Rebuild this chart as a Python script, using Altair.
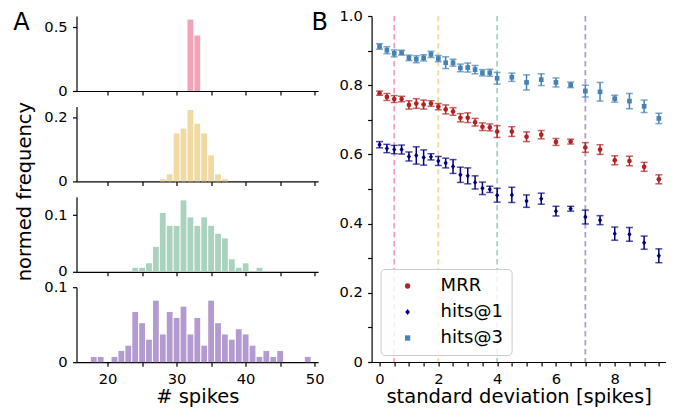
import altair as alt
import pandas as pd

FONT = "DejaVu Sans"

# ---------------- data: histograms (panel A) ----------------
pink_spikes = [32, 33]
pink_freq = [0.560, 0.435]

yellow_spikes = [28, 29, 30, 31, 32, 33, 34, 35, 36, 37]
yellow_freq = [0.007, 0.022, 0.149, 0.164, 0.222, 0.179, 0.149, 0.081, 0.022, 0.007]

green_spikes = [24, 25, 26, 27, 28, 29, 30, 31, 32, 33, 34, 35, 36, 37, 38, 39, 40, 42]
green_freq = [0.007, 0.007, 0.015, 0.044, 0.104, 0.081, 0.081, 0.126, 0.096, 0.081,
              0.096, 0.081, 0.067, 0.059, 0.022, 0.007, 0.015, 0.007]

purple_spikes = [18, 19, 21, 22, 23, 24, 25, 26, 27, 28, 29, 30, 31, 32, 33, 34, 35,
                 36, 37, 38, 39, 40, 41, 42, 43, 44, 45, 49]
purple_freq = [0.007, 0.007, 0.007, 0.015, 0.022, 0.067, 0.052, 0.030, 0.082, 0.037,
               0.067, 0.059, 0.074, 0.037, 0.059, 0.022, 0.082, 0.052, 0.037, 0.030,
               0.044, 0.037, 0.022, 0.007, 0.015, 0.007, 0.015, 0.007]

hist_colors = ["#f2a3b5", "#f0d9a2", "#a9d3bd", "#b49bcf"]
hist_xticks = [20, 25, 30, 35, 40, 45, 50]

# ---------------- data: metrics (panel B) ----------------
sd = [0, 0.25, 0.5, 0.75, 1, 1.25, 1.5, 1.75, 2, 2.25, 2.5, 2.75, 3, 3.25, 3.5, 3.75, 4,
      4.5, 5, 5.5, 6, 6.5, 7, 7.5, 8, 8.5, 9, 9.5]
mrr = [0.777, 0.766, 0.760, 0.760, 0.743, 0.747, 0.744, 0.747, 0.738, 0.730, 0.724, 0.706,
       0.706, 0.693, 0.680, 0.678, 0.666, 0.666, 0.651, 0.657, 0.636, 0.637, 0.620, 0.614,
       0.583, 0.581, 0.564, 0.528]
mrr_err = [0.006, 0.010, 0.010, 0.008, 0.012, 0.014, 0.013, 0.008, 0.009, 0.013, 0.011, 0.012,
           0.014, 0.011, 0.011, 0.010, 0.017, 0.014, 0.014, 0.012, 0.010, 0.007, 0.014, 0.014,
           0.013, 0.014, 0.013, 0.013]
hits1 = [0.628, 0.617, 0.614, 0.614, 0.594, 0.597, 0.591, 0.593, 0.581, 0.575, 0.565, 0.541,
         0.538, 0.519, 0.502, 0.499, 0.482, 0.483, 0.465, 0.472, 0.436, 0.443, 0.419, 0.410,
         0.371, 0.369, 0.345, 0.307]
hits1_err = [0.009, 0.012, 0.012, 0.013, 0.013, 0.025, 0.022, 0.009, 0.013, 0.014, 0.020, 0.022,
             0.023, 0.019, 0.018, 0.009, 0.020, 0.022, 0.018, 0.016, 0.014, 0.007, 0.020, 0.013,
             0.019, 0.020, 0.019, 0.020]
hits3 = [0.912, 0.901, 0.892, 0.894, 0.879, 0.875, 0.879, 0.889, 0.877, 0.865, 0.865, 0.850,
         0.851, 0.845, 0.836, 0.836, 0.820, 0.823, 0.808, 0.816, 0.808, 0.801, 0.783, 0.781,
         0.761, 0.754, 0.739, 0.704]
hits3_err = [0.008, 0.010, 0.010, 0.007, 0.008, 0.010, 0.009, 0.009, 0.009, 0.017, 0.010, 0.011,
             0.013, 0.012, 0.009, 0.010, 0.017, 0.012, 0.022, 0.017, 0.013, 0.008, 0.017, 0.027,
             0.010, 0.022, 0.018, 0.015]

metric_names = ["MRR", "hits@1", "hits@3"]
metric_colors = ["#b22222", "#000080", "#4682b4"]
metric_shapes = ["circle", "M0,-1.15L0.9,0L0,1.15L-0.9,0Z", "square"]

sd_markers = [0.5, 2, 4, 7]
sd_marker_names = ["d1", "d2", "d3", "d4"]

panel_labels = ["A", "B"]
ylabel_left = "normed frequency"
xlabel_left = "# spikes"
xlabel_right = "standard deviation [spikes]"

# ---------------- panel A ----------------
W_LEFT = 241.6
H_PANEL = 75
ONE = pd.DataFrame({"k": [0]})


def hist_panel(spikes, freq, color, ymax, yticks, bottom, extras=()):
    df = pd.DataFrame({"spikes": spikes, "freq": freq})
    xaxis = alt.Axis(values=hist_xticks, labels=bottom, labelOverlap=False,
                     labelExpr="datum.value % 10 == 0 ? format(datum.value, 'd') : ''",
                     title=xlabel_left if bottom else None)
    bars = alt.Chart(df).mark_bar(size=5.8, color=color, orient="vertical").encode(
        x=alt.X("spikes:Q", scale=alt.Scale(domain=[15.5, 50.5], nice=False, zero=False,
                                            padding=0),
                axis=xaxis),
        y=alt.Y("freq:Q", scale=alt.Scale(domain=[0, ymax], nice=False, padding=0),
                axis=alt.Axis(values=yticks, title=None,
                              labelExpr="datum.value == 0 ? '0' : format(datum.value, '.1f')")),
    )
    return alt.layer(bars, *extras).properties(width=W_LEFT, height=H_PANEL)


text_A = alt.Chart(pd.DataFrame({"label": [panel_labels[0]]})).mark_text(
    font=FONT, fontSize=24, align="center", baseline="alphabetic", color="black"
).encode(text="label:N", x=alt.value(-55), y=alt.value(13.65))
text_B = alt.Chart(pd.DataFrame({"label": [panel_labels[1]]})).mark_text(
    font=FONT, fontSize=24, align="center", baseline="alphabetic", color="black"
).encode(text="label:N", x=alt.value(243.3), y=alt.value(13.65))
spacer = alt.Chart(ONE).mark_rule(strokeOpacity=0).encode(
    x=alt.value(0), y=alt.value(-6.65), y2=alt.value(0))
ytitle = alt.Chart(pd.DataFrame({"label": [ylabel_left]})).mark_text(
    font=FONT, fontSize=19.5, align="center", baseline="alphabetic", angle=270, color="black"
).encode(text="label:N", x=alt.value(-45.2), y=alt.value(85.2))

p1 = hist_panel(pink_spikes, pink_freq, hist_colors[0], 0.588, [0, 0.5], False,
                (text_A, text_B, spacer))
p2 = hist_panel(yellow_spikes, yellow_freq, hist_colors[1], 0.233, [0, 0.2], False, (ytitle,))
p3 = hist_panel(green_spikes, green_freq, hist_colors[2], 0.1323, [0, 0.1], False)
p4 = hist_panel(purple_spikes, purple_freq, hist_colors[3], 0.1, [0, 0.1], True)

left = alt.vconcat(p1, p2, p3, p4, spacing=15.4, bounds="flush")

# ---------------- panel B ----------------
rows = []
for name, vals, errs in zip(metric_names, [mrr, hits1, hits3], [mrr_err, hits1_err, hits3_err]):
    for s, v, e in zip(sd, vals, errs):
        rows.append({"metric": name, "sd": s, "value": v, "err": e})
mdf = pd.DataFrame(rows)

xscale = alt.Scale(domain=[-0.27, 9.73], nice=False, zero=False, padding=0)
xaxis_r = alt.Axis(values=[i * 0.5 for i in range(20)], labelOverlap=False,
                   labelExpr="datum.value % 2 == 0 ? format(datum.value, 'd') : ''",
                   title=xlabel_right)
yscale = alt.Scale(domain=[0, 1], nice=False, padding=0)
yaxis_r = alt.Axis(values=[0, 0.1, 0.2, 0.3, 0.4, 0.5, 0.6, 0.7, 0.8, 0.9, 1.0], title=None,
                   labelOverlap=False,
                   labelExpr="datum.value == 0 ? '0' : (round(datum.value * 10) % 2 == 0 ? format(datum.value, '.1f') : '')")
X = alt.X("sd:Q", scale=xscale, axis=xaxis_r)
cscale = alt.Scale(domain=metric_names, range=metric_colors)

lines = alt.Chart(pd.DataFrame({"sd": sd_markers, "name": sd_marker_names})).mark_rule(
    strokeDash=[5.5, 3.5], strokeWidth=1.8
).encode(
    x=X,
    stroke=alt.Stroke("name:N", scale=alt.Scale(domain=sd_marker_names, range=hist_colors),
                      legend=None),
)

base = alt.Chart(mdf).transform_calculate(
    lo="datum.value - datum.err", hi="datum.value + datum.err")

errbars = base.mark_rule(strokeWidth=1.5).encode(
    x=X, y=alt.Y("lo:Q", scale=yscale, axis=yaxis_r), y2="hi:Q",
    color=alt.Color("metric:N", scale=cscale, legend=None))
cap_lo = base.mark_tick(orient="horizontal", size=7, thickness=1.5).encode(
    x=X, y=alt.Y("lo:Q", scale=yscale, axis=yaxis_r),
    color=alt.Color("metric:N", scale=cscale, legend=None))
cap_hi = base.mark_tick(orient="horizontal", size=7, thickness=1.5).encode(
    x=X, y=alt.Y("hi:Q", scale=yscale, axis=yaxis_r),
    color=alt.Color("metric:N", scale=cscale, legend=None))

legend_kw = dict(orient="none", legendX=9, legendY=253, labelFont=FONT, labelFontSize=18,
                 labelColor="black", fillColor="rgba(255,255,255,0.8)", strokeColor="#cccccc",
                 cornerRadius=4, padding=8, rowPadding=8, symbolOffset=10, labelOffset=24,
                 symbolSize=28)
points = base.mark_point(filled=True, opacity=1, size=22).encode(
    x=X, y=alt.Y("value:Q", scale=yscale, axis=yaxis_r),
    color=alt.Color("metric:N", scale=cscale, title=None, legend=alt.Legend(**legend_kw)),
    shape=alt.Shape("metric:N", scale=alt.Scale(domain=metric_names, range=metric_shapes),
                    title=None, legend=alt.Legend(**legend_kw)),
)

right = alt.layer(lines, errbars, cap_lo, cap_hi, points).resolve_legend(
    color="independent", shape="independent"
).properties(width=294, height=346)

chart = alt.hconcat(left, right, spacing=10.1).properties(
    padding={"left": 4.5, "top": 0, "right": 0, "bottom": 0}
).configure_axis(
    domainColor="black", tickColor="black", domainWidth=1.2, tickWidth=1.2, tickSize=4,
    labelFont=FONT, labelFontSize=14.7, labelColor="black", labelPadding=5, labelFlush=False,
    titleFont=FONT, titleFontSize=19.5, titleFontWeight="normal", titleColor="black",
    titlePadding=2, grid=False,
).configure_axisY(labelPadding=5.3).configure_view(stroke=None)

chart.save("out.html", embed_options={"renderer": "svg", "actions": False})
